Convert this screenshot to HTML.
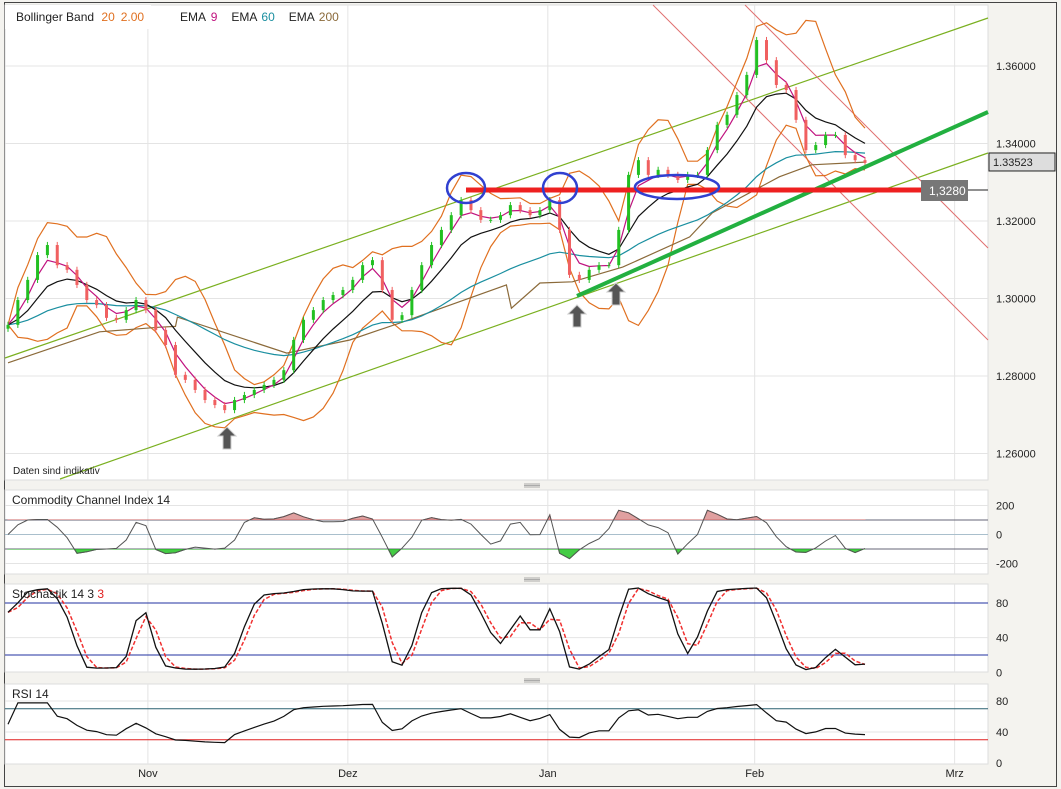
<!DOCTYPE html>
<html><head><meta charset="utf-8">
<style>
html,body{margin:0;padding:0;background:#f4f3ef;}
svg{display:block;font-family:"Liberation Sans",sans-serif;}
</style></head>
<body>
<svg id="chart" width="1061" height="789" viewBox="0 0 1061 789">
  <rect x="0" y="0" width="1061" height="789" fill="#f4f3ef"/>
  <rect x="4.5" y="2.5" width="1052" height="784" fill="none" stroke="#444"/>
  <rect x="5" y="5" width="983" height="475" fill="#fff" stroke="#ddd"/>
  <rect x="5" y="490" width="983" height="84" fill="#fff" stroke="#ddd"/>
  <rect x="5" y="584" width="983" height="88" fill="#fff" stroke="#ddd"/>
  <rect x="5" y="684" width="983" height="80" fill="#fff" stroke="#ddd"/>
  <g id="grid"></g>
  <g id="overlays"></g>
  <g id="candles"></g>
  <g id="annot"></g>
  <g id="ind"></g>
  <g id="labels"></g>
</svg>
<script>
const closes=[1.2932,1.2996,1.3048,1.3112,1.3138,1.3086,1.3074,1.3035,1.2996,1.2983,1.2950,1.2945,1.2970,1.2996,1.2970,1.2919,1.2880,1.2803,1.2790,1.2764,1.2738,1.2725,1.2712,1.2738,1.2751,1.2764,1.2777,1.2790,1.2815,1.2893,1.2945,1.2970,1.2996,1.3009,1.3022,1.3048,1.3086,1.3099,1.3022,1.2945,1.2957,1.3022,1.3086,1.3138,1.3177,1.3215,1.3254,1.3228,1.3203,1.3203,1.3215,1.3241,1.3228,1.3215,1.3228,1.3254,1.3177,1.3061,1.3048,1.3074,1.3086,1.3086,1.3177,1.3319,1.3357,1.3319,1.3332,1.3319,1.3306,1.3319,1.3319,1.3383,1.3448,1.3474,1.3525,1.3577,1.3667,1.3615,1.3551,1.3538,1.3461,1.3383,1.3396,1.3422,1.3422,1.3370,1.3357,1.3350];
const ema200Idx=[0,9.3,15.4,17.0,17.2,28.3,34.7,39.8,50.6,51.1,54,57.3,62.4,69.2,71.5,78.3,81.6,87];
const ema200Vals=[1.2834,1.2914,1.2926,1.2928,1.2952,1.2859,1.2893,1.2937,1.3035,1.2975,1.3040,1.3043,1.3081,1.3159,1.3221,1.3314,1.3345,1.3352];
const priceTicks=[1.36,1.34,1.32,1.30,1.28,1.26];
const priceTickLabels=["1.36000","1.34000","1.32000","1.30000","1.28000","1.26000"];
const monthLabels=["Nov","Dez","Jan","Feb","Mrz"];
const monthIdx=[14.2,34.5,54.8,75.8,96.1];
const cciTicks=[200,0,-200];
const stochTicks=[80,40,0];
const rsiTicks=[80,40,0];
const lastPrice=1.33523;
const levelPrice=1.3280;

const NS="http://www.w3.org/2000/svg";
const n=closes.length;
const step=857/(n-1);
const xOf=i=>8+i*step;
const yP=p=>66+(1.36-p)*3875;
const yCCI=v=>534.5-v*0.145;
const yST=v=>672.3-v*0.867;
const yRSI=v=>763-v*0.775;
function el(tag,attrs,parent){const e=document.createElementNS(NS,tag);for(const k in attrs)e.setAttribute(k,attrs[k]);parent.appendChild(e);return e;}
const G=id=>document.getElementById(id);
function pathOf(vals,yf,start){let d="";for(let i=start||0;i<vals.length;i++){if(vals[i]==null)continue;d+=(d?"L":"M")+xOf(i).toFixed(1)+","+yf(vals[i]).toFixed(1);}return d;}

const grid=G('grid');
monthIdx.forEach((m,k)=>{[[5,480],[490,574],[584,672],[684,764]].forEach(r=>{
  const l=el('line',{x1:xOf(m),x2:xOf(m),y1:r[0],y2:r[1],stroke:'#e4e4e4'},grid);
  
  });});
priceTicks.forEach(p=>{const l=el('line',{x1:5,x2:988,y1:yP(p),y2:yP(p),stroke:'#e4e4e4'},grid);
  
  });
[200,-200].forEach(v=>{const l=el('line',{x1:5,x2:988,y1:yCCI(v),y2:yCCI(v),stroke:'#e4e4e4'},grid);
  
  });
[40].forEach(v=>{const l=el('line',{x1:5,x2:988,y1:yST(v),y2:yST(v),stroke:'#e4e4e4'},grid);
  
  });
[40,80].forEach(v=>{const l=el('line',{x1:5,x2:988,y1:yRSI(v),y2:yRSI(v),stroke:'#e4e4e4'},grid);
  
  });

function ema(arr,p){const a=2/(p+1);const o=[];let e=arr[0];arr.forEach((v,i)=>{e=i?a*v+(1-a)*e:v;o.push(e);});return o;}
const bbP=7,mid=[],up=[],lo=[];
for(let i=0;i<n;i++){const s=closes.slice(Math.max(0,i-bbP+1),i+1);const m=s.reduce((a,b)=>a+b,0)/s.length;const sd=Math.sqrt(s.reduce((a,b)=>a+(b-m)*(b-m),0)/s.length);mid.push(m);up.push(m+2*sd);lo.push(m-2*sd);}
const e9=ema(closes,3),e60=ema(closes,28),blk=ema(closes,8);
const ov=G('overlays');
let a=el('line',{x1:5,y1:358,x2:988,y2:18,stroke:'#7ab020','stroke-width':1.2},ov);


a=el('line',{x1:60,y1:479,x2:988,y2:153,stroke:'#7ab020','stroke-width':1.2},ov);


a=el('line',{x1:653,y1:5,x2:988,y2:340,stroke:'#e07070','stroke-width':1},ov);


a=el('line',{x1:745,y1:5,x2:988,y2:248,stroke:'#e07070','stroke-width':1},ov);


let p=el('path',{d:pathOf(up,yP),fill:'none',stroke:'#e07020','stroke-width':1.2},ov);


p=el('path',{d:pathOf(lo,yP),fill:'none',stroke:'#e07020','stroke-width':1.2},ov);


let d="";ema200Idx.forEach((ix,k)=>{d+=(k?"L":"M")+xOf(ix).toFixed(1)+","+yP(ema200Vals[k]).toFixed(1);});
p=el('path',{d:d,fill:'none',stroke:'#8b6a3a','stroke-width':1.2},ov);


p=el('path',{d:pathOf(e60,yP),fill:'none',stroke:'#1a8fa0','stroke-width':1.2},ov);


p=el('path',{d:pathOf(blk,yP),fill:'none',stroke:'#111','stroke-width':1.2},ov);


p=el('path',{d:pathOf(e9,yP),fill:'none',stroke:'#c0127f','stroke-width':1.2},ov);



const cg=G('candles');const highs=[],lows=[];
for(let i=0;i<n;i++){const o=i?closes[i-1]:closes[0]-0.001,c=closes[i];
  const h=Math.max(o,c)+0.0008,l=Math.min(o,c)-0.0008;highs.push(h);lows.push(l);
  const col=c>=o?'#22c022':'#f06060';
  const w=el('line',{x1:xOf(i),x2:xOf(i),y1:yP(h),y2:yP(l),stroke:col,'stroke-width':1},cg);
  
  
  const b=el('rect',{x:xOf(i)-1.5,y:Math.min(yP(o),yP(c)),width:3,height:Math.max(1,Math.abs(yP(o)-yP(c))),fill:col},cg);
  
  }

const an=G('annot');
a=el('line',{x1:577,y1:296,x2:988,y2:112,stroke:'#22b040','stroke-width':4},an);


a=el('line',{x1:466,y1:yP(levelPrice),x2:922,y2:yP(levelPrice),stroke:'#ee2020','stroke-width':5},an);


a=el('line',{x1:966,y1:yP(levelPrice),x2:988,y2:yP(levelPrice),stroke:'#222','stroke-width':1},an);


a=el('rect',{x:921,y:yP(levelPrice)-10,width:47,height:21,fill:'#777'},an);


a=el('text',{x:929,y:yP(levelPrice)+5,fill:'#fff','font-size':12},an);a.textContent='1,3280';


[[466,188,19,15],[560,188,17,15],[677,187,42,12]].forEach(e=>{const c=el('ellipse',{cx:e[0],cy:e[1],rx:e[2],ry:e[3],fill:'none',stroke:'#3040d0','stroke-width':2.5},an);
  
  });
[[227,427],[577,305],[616,283]].forEach(q=>{const x=q[0],y=q[1];
  const ar=el('path',{d:`M${x},${y} l9,9 h-5 v13 h-8 v-13 h-5 z`,fill:'#555',stroke:'#ccc','stroke-width':1},an);
  
  });

const ind=G('ind');
[[100,'#667'],[0,'#a9bfcc'],[-100,'#667']].forEach(r=>{const l=el('line',{x1:5,x2:988,y1:yCCI(r[0]),y2:yCCI(r[0]),stroke:r[1]},ind);
  
  });
const tp=closes.map((c,i)=>(highs[i]+lows[i]+c)/3);const cci=[];const cp=5;
for(let i=0;i<n;i++){const s=tp.slice(Math.max(0,i-cp+1),i+1);const m=s.reduce((a,b)=>a+b,0)/s.length;const md=s.reduce((a,b)=>a+Math.abs(b-m),0)/s.length||1e-6;cci.push(Math.max(-260,Math.min(300,(tp[i]-m)/(0.015*md))));}
el('clipPath',{id:'cup'},ind).appendChild(document.createElementNS(NS,'rect')).setAttribute('height',yCCI(100));
document.querySelector('#cup rect').setAttribute('width',1061);
el('clipPath',{id:'cdn'},ind);
const cr=el('rect',{x:0,y:yCCI(-100),width:1061,height:100},G('cdn'));
const area=base=>"M"+xOf(0)+","+yCCI(base)+pathOf(cci,yCCI).replace(/^M/,"L")+"L"+xOf(n-1)+","+yCCI(base)+"Z";
p=el('path',{d:area(100),fill:'#e0a0a0',stroke:'#c66','clip-path':'url(#cup)'},ind);


p=el('path',{d:area(-100),fill:'#44cc44',stroke:'#2a2','clip-path':'url(#cdn)'},ind);


p=el('path',{d:pathOf(cci,yCCI),fill:'none',stroke:'#555','stroke-width':1},ind);



[80,20].forEach(v=>{const l=el('line',{x1:5,x2:988,y1:yST(v),y2:yST(v),stroke:'#2230a0'},ind);
  
  });
const raw=[];for(let i=0;i<n;i++){const a0=Math.max(0,i-4);const hh=Math.max(...highs.slice(a0,i+1)),ll=Math.min(...lows.slice(a0,i+1));raw.push(100*(closes[i]-ll)/(hh-ll));}
const K=raw.map((v,i)=>i?(v+raw[i-1])/2:v);const D=K.map((v,i)=>i?(v+K[i-1])/2:v);
p=el('path',{d:pathOf(D,yST),fill:'none',stroke:'#f03030','stroke-width':1.5,'stroke-dasharray':'4,2'},ind);


p=el('path',{d:pathOf(K,yST),fill:'none',stroke:'#111','stroke-width':1.3},ind);



[[70,'#2a6070'],[30,'#e02020']].forEach(r=>{const l=el('line',{x1:5,x2:988,y1:yRSI(r[0]),y2:yRSI(r[0]),stroke:r[1]},ind);
  
  });
const rsi=[];let ag=0,al=0;const rp=5;
for(let i=0;i<n;i++){const ch=i?closes[i]-closes[i-1]:0;const g=Math.max(ch,0),l=Math.max(-ch,0);ag=(ag*(rp-1)+g)/rp;al=(al*(rp-1)+l)/rp;rsi.push(i?100-100/(1+ag/(al||1e-9)):50);}
const rsiS=rsi.map(v=>50+(v-50)*0.55);
p=el('path',{d:pathOf(rsiS,yRSI),fill:'none',stroke:'#111','stroke-width':1.2},ind);



const lb=G('labels');
function txt(x,y,s,name,attrs){const t=el('text',Object.assign({x:x,y:y,'font-size':11,fill:'#222'},attrs||{}),lb);t.textContent=s;
  
  return t;}
priceTicks.forEach((pp,k)=>txt(996,yP(pp)+4,priceTickLabels[k],'price-tick-label'));
cciTicks.forEach(v=>txt(996,yCCI(v)+4,String(v),'cci-tick-label'));
stochTicks.forEach(v=>txt(996,yST(v)+4,String(v),'stoch-tick-label'));
rsiTicks.forEach(v=>txt(996,yRSI(v)+4,String(v),'rsi-tick-label'));
monthLabels.forEach((m,k)=>txt(xOf(monthIdx[k]),777,m,'x-axis-month-label',{'text-anchor':'middle'}));
a=el('rect',{x:989,y:yP(lastPrice)-9,width:66,height:18,fill:'#ddd',stroke:'#222'},lb);


txt(993,yP(lastPrice)+4,lastPrice.toFixed(5),'last-price-label');
a=el('rect',{x:5,y:5,width:146,height:24,fill:'#fff'},lb);


const lg=el('text',{x:16,y:21,'font-size':12,fill:'#222'},lb);


lg.innerHTML='Bollinger Band <tspan fill="#e07020" dx="4">20</tspan><tspan fill="#e07020" dx="6">2.00</tspan>';
const lg2=el('text',{x:180,y:21,'font-size':12,fill:'#222'},lb);


lg2.innerHTML='EMA <tspan fill="#c0127f" dx="2">9</tspan><tspan dx="14">EMA</tspan><tspan fill="#1a8fa0" dx="4">60</tspan><tspan dx="14">EMA</tspan><tspan fill="#8b6a3a" dx="4">200</tspan>';
txt(13,474,'Daten sind indikativ','data-disclaimer',{'font-size':10});
txt(12,504,'Commodity Channel Index  14','cci-title',{'font-size':12});
const st=el('text',{x:12,y:598,'font-size':12,fill:'#222'},lb);


st.innerHTML='Stochastik  14  3  <tspan fill="#e02020">3</tspan>';
txt(12,698,'RSI  14','rsi-title',{'font-size':12});
[485,579,680].forEach(y=>{for(let k=0;k<3;k++){const g=el('line',{x1:524,x2:540,y1:y-1+k*1.5,y2:y-1+k*1.5,stroke:'#999','stroke-width':0.8},lb);
  
  }});
</script>
</body></html>
